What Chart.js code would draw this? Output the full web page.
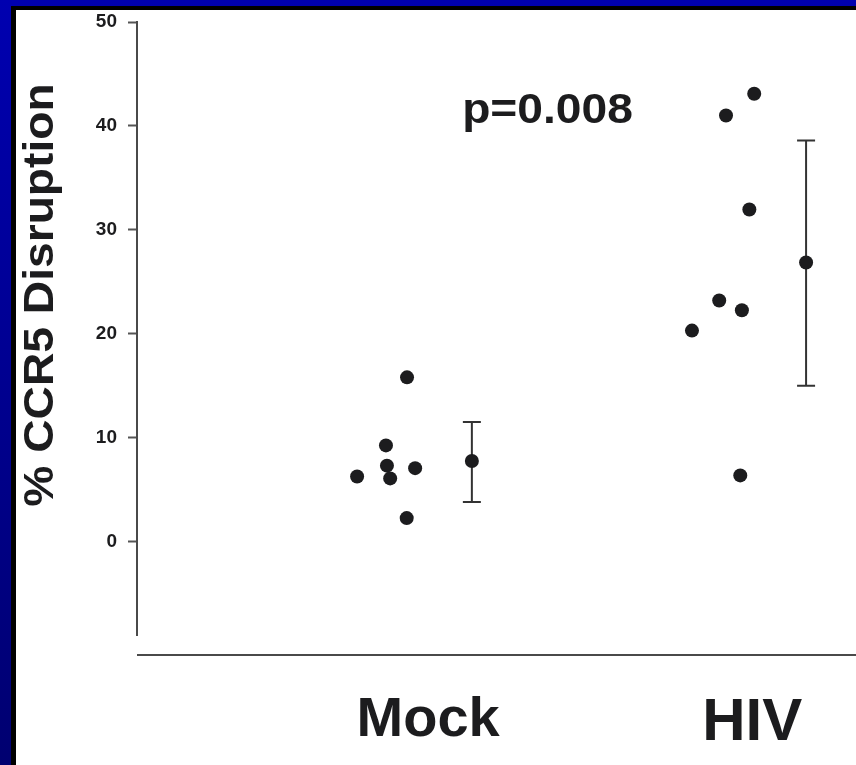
<!DOCTYPE html>
<html lang="en">
  <head>
    <meta charset="UTF-8" />
    <meta name="viewport" content="width=device-width, initial-scale=1.0" />
    <title>% CCR5 Disruption</title>
    <script src="https://cdn.jsdelivr.net/npm/chart.js@4.4.0/dist/chart.umd.min.js"></script>
    <style>
      html,
      body {
        margin: 0;
        padding: 0;
      }
      body {
        width: 856px;
        height: 765px;
        overflow: hidden;
        position: relative;
        background: linear-gradient(#0000b0, #000070);
      }
      #frame {
        position: absolute;
        left: 11px;
        top: 6px;
        right: 0;
        bottom: 0;
        background: #000;
      }
      #panel {
        position: absolute;
        left: 16px;
        top: 10px;
        width: 840px;
        height: 755px;
        background: #fff;
      }
    </style>
  </head>
  <body>
    <div id="frame"></div>
    <div id="panel">
      <canvas id="ccr5-chart" width="840" height="755"></canvas>
    </div>

    <script>
      // Grupos y valores (% de disrupción de CCR5)
      const categories = ['Mock', 'HIV'];
      const mockValues = [15.8, 9.25, 7.3, 6.26, 6.07, 7.06, 2.25];
      const hivValues = [43.1, 41.0, 31.95, 23.2, 22.25, 20.3, 6.36];
      // desplazamiento horizontal de cada punto dentro de su grupo
      const mockJitter = [-0.065, -0.13, -0.127, -0.219, -0.117, -0.04, -0.066];
      const hivJitter = [0.006, -0.081, -0.009, -0.102, -0.032, -0.186, -0.037];
      // media y barras de error por grupo
      const means = [7.74, 26.85];
      const errLow = [3.8, 15.0];
      const errHigh = [11.5, 38.6];
      const meanOffset = [0.135, 0.166];
      const yTicks = [0, 10, 20, 30, 40, 50];
      const pLabel = 'p=0.008';
      const yTitle = '% CCR5 Disruption';

      const FONT = "'Liberation Sans', Arial, Helvetica, sans-serif";
      const INK = '#1c1c1e';
      const AXIS = '#4a4a4a';

      const groupPoints = (values, jitter, pos) =>
        values.map((v, i) => ({ x: pos + jitter[i], y: v }));

      const meanPoints = means.map((m, i) => ({ x: i + 1 + meanOffset[i], y: m }));

      // Líneas extra: eje x separado, barras de error, título y valor p
      const extras = {
        id: 'extras',
        beforeDatasetsDraw(chart) {
          const { ctx, scales } = chart;
          const x = scales.x;
          const y = scales.y;
          ctx.save();
          ctx.strokeStyle = '#333';
          ctx.lineWidth = 2;
          means.forEach((m, i) => {
            const px = x.getPixelForValue(i + 1 + meanOffset[i]);
            const top = y.getPixelForValue(errHigh[i]);
            const bot = y.getPixelForValue(errLow[i]);
            ctx.beginPath();
            ctx.moveTo(px, top);
            ctx.lineTo(px, bot);
            ctx.moveTo(px - 9, top);
            ctx.lineTo(px + 9, top);
            ctx.moveTo(px - 9, bot);
            ctx.lineTo(px + 9, bot);
            ctx.stroke();
          });
          ctx.restore();
        },
        afterDraw(chart) {
          const { ctx, scales, chartArea } = chart;
          const x = scales.x;
          const y = scales.y;
          ctx.save();
          // eje horizontal
          ctx.strokeStyle = AXIS;
          ctx.lineWidth = 2;
          ctx.beginPath();
          ctx.moveTo(chartArea.left, x.top + 20);
          ctx.lineTo(chartArea.right, x.top + 20);
          ctx.stroke();

          // título del eje y (letra algo ensanchada)
          ctx.fillStyle = INK;
          ctx.font = `bold 42px ${FONT}`;
          ctx.textAlign = 'center';
          ctx.textBaseline = 'alphabetic';
          ctx.translate(37, 285);
          ctx.rotate(-Math.PI / 2);
          ctx.scale(1.1, 1);
          ctx.fillText(yTitle, 0, 0);
          ctx.restore();

          // valor p
          ctx.save();
          ctx.fillStyle = INK;
          ctx.font = `bold 42px ${FONT}`;
          ctx.textAlign = 'left';
          ctx.textBaseline = 'alphabetic';
          ctx.translate(x.getPixelForValue(1.105), y.getPixelForValue(40.3));
          ctx.scale(1.1, 1);
          ctx.fillText(pLabel, 0, 0);
          ctx.restore();
        },
      };

      const pointStyle = {
        backgroundColor: INK,
        borderColor: INK,
        pointRadius: 7,
        pointHoverRadius: 7,
        borderWidth: 0,
      };

      const chart = new Chart(document.getElementById('ccr5-chart'), {
        type: 'scatter',
        data: {
          datasets: [
            { label: categories[0], data: groupPoints(mockValues, mockJitter, 1), ...pointStyle },
            { label: categories[1], data: groupPoints(hivValues, hivJitter, 2), ...pointStyle },
            { label: 'mean', data: meanPoints, ...pointStyle },
          ],
        },
        options: {
          responsive: false,
          animation: false,
          layout: { autoPadding: false, padding: { top: 12, left: 0, right: 0, bottom: 0 } },
          plugins: {
            legend: { display: false },
            tooltip: { enabled: false },
          },
          scales: {
            x: {
              type: 'linear',
              min: 0.102,
              max: 2.32,
              afterBuildTicks: (s) => {
                s.ticks = categories.map((c, i) => ({ value: i + 1 }));
              },
              afterFit: (s) => {
                s.height = 130;
                s.paddingLeft = 0;
                s.paddingRight = 0;
              },
              ticks: {
                callback: (v, i) => categories[i],
                color: INK,
                maxRotation: 0,
                autoSkip: false,
                padding: 44,
                font: (c) => ({ family: FONT, weight: 'bold', size: c.index === 1 ? 60 : 56 }),
              },
              grid: { display: false },
              border: { display: false },
            },
            y: {
              min: -9,
              max: 50,
              afterBuildTicks: (s) => {
                s.ticks = yTicks.map((v) => ({ value: v }));
              },
              afterFit: (s) => {
                s.width = 121;
                s.paddingTop = 0;
                s.paddingBottom = 0;
              },
              ticks: {
                color: INK,
                padding: 11,
                font: { family: FONT, weight: 'bold', size: 19 },
              },
              grid: {
                drawOnChartArea: false,
                tickLength: 9,
                tickWidth: 2,
                tickColor: '#555',
              },
              border: { color: AXIS, width: 2 },
            },
          },
        },
        plugins: [extras],
      });
    </script>
  </body>
</html>
